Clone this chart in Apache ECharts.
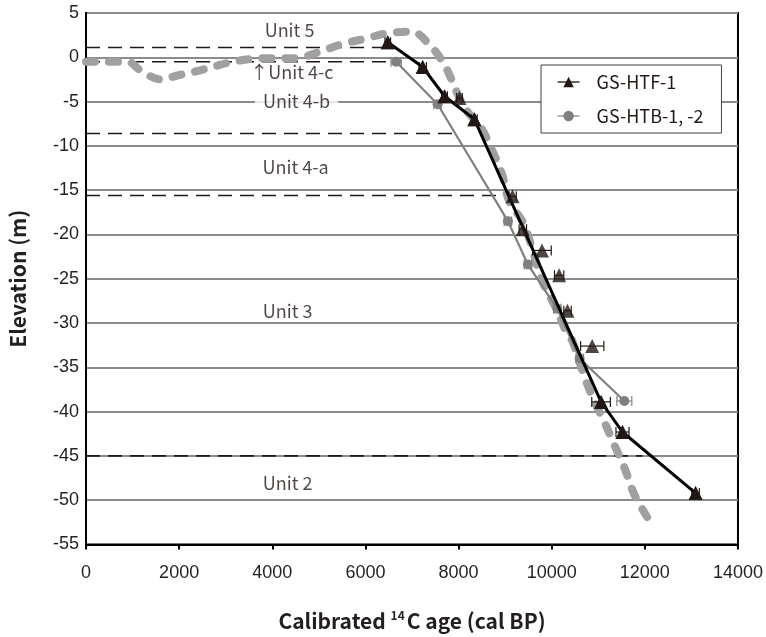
<!DOCTYPE html>
<html>
<head>
<meta charset="utf-8">
<script src="https://cdn.jsdelivr.net/npm/echarts@6/dist/echarts.min.js"></script>
<style>
html,body{margin:0;padding:0;background:#fff;}
#chart{width:766px;height:637px;}
</style>
</head>
<body>
<div id="chart"></div>
<script>
// ---- data ----
var xTicks = [0, 2000, 4000, 6000, 8000, 10000, 12000, 14000];
var yTicks = [5, 0, -5, -10, -15, -20, -25, -30, -35, -40, -45, -50, -55];

// GS-HTF-1 dated samples (triangles) and x error (years)
var htfAge = [6480, 7230, 7700, 8020, 8340, 9160, 9380, 9790, 10160, 10340, 10870, 11060, 11520, 13090];
var htfElev = [1.7, -1.1, -4.4, -4.6, -7.0, -15.7, -19.4, -21.8, -24.6, -28.6, -32.6, -38.9, -42.3, -49.2];
var htfErr = [60, 80, 60, 60, 60, 80, 80, 200, 100, 80, 250, 200, 140, 80];
// GS-HTF-1 connecting line (nodes)
var htfLineAge = [6480, 7230, 7700, 8340, 11060, 11520, 13090];
var htfLineElev = [1.7, -1.1, -4.4, -7.0, -38.9, -42.3, -49.2];

// GS-HTB-1, -2
var htbAge = [6660, 7550, 9060, 9490, 10120, 10600, 11560];
var htbElev = [-0.5, -5.3, -18.5, -23.4, -28.4, -34.0, -38.8];
var htbErr = [110, 80, 80, 80, 80, 80, 160];

// thick grey dashed curve
var curveAge = [0, 900, 1150, 1600, 2000, 2350, 2750, 3150, 3850, 4500, 5000, 5500, 6000, 6450, 7000, 7380, 7660, 7840, 8020, 8230, 8480, 8730, 8940, 9090, 9370, 9560, 9800, 10090, 10340, 10440, 10590, 10770, 10950, 11160, 11340, 11560, 11770, 12060, 12200];
var curveElev = [-0.5, -0.5, -1.4, -2.5, -2.0, -1.6, -1.05, -0.5, -0.1, -0.1, 0.6, 1.5, 2.1, 2.7, 2.9, 1.4, -0.5, -2.4, -4.6, -6.4, -7.9, -10.6, -13.3, -16.3, -18.5, -21.2, -25.3, -28.3, -31.3, -32.0, -34.3, -37.0, -39.2, -41.5, -43.7, -46.3, -49.3, -52.0, -53.1];

// unit boundaries (dashed)
var boundaryElev = [1.1, -0.5, -8.6, -15.6, -45.0];
var boundaryEnd = [6400, 6450, 7950, 8900, 11950];

var unitNames = ['Unit 5', '\u2191Unit 4-c', 'Unit 4-b', 'Unit 4-a', 'Unit 3', 'Unit 2'];
var unitAge = [4370, 4420, 4520, 4500, 4330, 4330];
var unitElev = [3.1, -1.7, -5.0, -12.4, -28.7, -48.1];

var seriesNames = ['GS-HTF-1', 'GS-HTB-1, -2'];

// ---- build ----
function pairs(xs, ys) { return xs.map(function (x, i) { return [x, ys[i]]; }); }
function triples(xs, ys, es) { return xs.map(function (x, i) { return [x, ys[i], es[i]]; }); }

function errRender(color) {
  return function (params, api) {
    var x = api.value(0), y = api.value(1), e = api.value(2);
    var l = api.coord([x - e, y]);
    var r = api.coord([x + e, y]);
    var st = { stroke: color, lineWidth: 1.2 };
    return {
      type: 'group',
      children: [
        { type: 'line', shape: { x1: l[0], y1: l[1], x2: r[0], y2: r[1] }, style: st },
        { type: 'line', shape: { x1: l[0], y1: l[1] - 5, x2: l[0], y2: l[1] + 5 }, style: st },
        { type: 'line', shape: { x1: r[0], y1: r[1] - 5, x2: r[0], y2: r[1] + 5 }, style: st }
      ]
    };
  };
}

var series = [];
boundaryElev.forEach(function (y, i) {
  series.push({
    type: 'line', silent: true, symbol: 'none', z: 2,
    data: [[0, y], [boundaryEnd[i], y]],
    lineStyle: { color: '#231815', width: 1.6, type: [14, 8] }
  });
});
series.push({
  type: 'line', silent: true, symbol: 'none', smooth: 0.35, z: 3,
  data: pairs(curveAge, curveElev),
  lineStyle: { color: '#a0a0a0', width: 8, type: [9, 14], cap: 'round', join: 'round' }
});
series.push({
  type: 'custom', silent: true, z: 4,
  renderItem: errRender('#808080'),
  data: triples(htbAge, htbElev, htbErr)
});
series.push({
  name: seriesNames[1], type: 'line', smooth: false, z: 5,
  data: pairs(htbAge, htbElev),
  symbol: 'circle', symbolSize: 10,
  itemStyle: { color: '#808080' },
  lineStyle: { color: '#808080', width: 2.2 }
});
series.push({
  type: 'custom', silent: true, z: 6,
  renderItem: errRender('#231815'),
  data: triples(htfAge, htfElev, htfErr)
});
series.push({
  name: seriesNames[0], type: 'line', smooth: false, z: 7,
  data: pairs(htfLineAge, htfLineElev),
  symbol: 'triangle', symbolSize: 14,
  itemStyle: { color: '#231815' },
  lineStyle: { color: '#000000', width: 3 }
});
series.push({
  type: 'scatter', silent: true, z: 8,
  data: pairs(htfAge, htfElev),
  symbol: 'triangle', symbolSize: 14,
  itemStyle: { color: '#231815' }
});
series.push({
  type: 'scatter', silent: true, z: 9,
  symbolSize: 0,
  data: unitNames.map(function (n, i) {
    var d = { name: n, value: [unitAge[i], unitElev[i]] };
    if (i === 2) d.label = { backgroundColor: '#ffffff', padding: [0, 8] };
    return d;
  }),
  label: {
    show: true, position: 'inside', formatter: function (p) { return p.name; },
    fontFamily: 'Noto Sans CJK JP', fontSize: 18, color: '#231815'
  },
  labelLayout: { hideOverlap: false }
});

var chart = echarts.init(document.getElementById('chart'), null, { renderer: 'canvas' });
chart.setOption({
  animation: false,
  backgroundColor: '#ffffff',
  grid: { left: 86, right: 27, top: 13, bottom: 90, show: true, borderColor: '#000', borderWidth: 2, backgroundColor: 'transparent' },
  legend: {
    data: seriesNames,
    orient: 'vertical',
    left: 541, top: 65,
    padding: [8, 18, 8, 16],
    itemGap: 16,
    itemWidth: 22, itemHeight: 13,
    backgroundColor: '#ffffff',
    borderColor: '#404040', borderWidth: 1,
    lineStyle: { width: 1.2 },
    textStyle: { fontFamily: 'Noto Sans CJK JP', fontSize: 18, color: '#231815', padding: [0, 0, 0, 12] }
  },
  xAxis: {
    type: 'value', min: 0, max: 14000, interval: 2000,
    axisLine: { onZero: false, lineStyle: { color: '#000', width: 2 } },
    axisTick: { show: true, inside: false, length: 5, lineStyle: { color: '#000', width: 2 } },
    splitLine: { show: false },
    axisLabel: {
      margin: 20, fontFamily: 'Liberation Sans', fontSize: 18, color: '#231f20',
      formatter: function (v) { return xTicks.indexOf(v) >= 0 ? String(v) : ''; }
    },
    name: '{b|Calibrated }{s|14}{b|C age (cal BP)}',
    nameLocation: 'middle', nameGap: 65,
    nameTextStyle: {
      rich: {
        b: { fontFamily: 'Noto Sans CJK JP', fontWeight: 'bold', fontSize: 21, color: '#231f20', lineHeight: 24 },
        s: { fontFamily: 'Noto Sans CJK JP', fontWeight: 'bold', fontSize: 12, color: '#231f20', lineHeight: 24, verticalAlign: 'top', padding: [0, 2, 0, 0] }
      }
    }
  },
  yAxis: {
    type: 'value', min: -55, max: 5, interval: 5,
    axisLine: { onZero: false, lineStyle: { color: '#000', width: 2 } },
    axisTick: { show: false },
    splitLine: { show: true, lineStyle: { color: '#8c8c8c', width: 2 } },
    axisLabel: {
      margin: 7, fontFamily: 'Liberation Sans', fontSize: 18, color: '#231f20',
      formatter: function (v) { return yTicks.indexOf(v) >= 0 ? String(v) : ''; }
    },
    name: 'Elevation (m)',
    nameLocation: 'middle', nameGap: 57, nameRotate: 90,
    nameTextStyle: { fontFamily: 'Noto Sans CJK JP', fontWeight: 'bold', fontSize: 21, color: '#231f20' }
  },
  series: series
});
</script>
</body>
</html>
